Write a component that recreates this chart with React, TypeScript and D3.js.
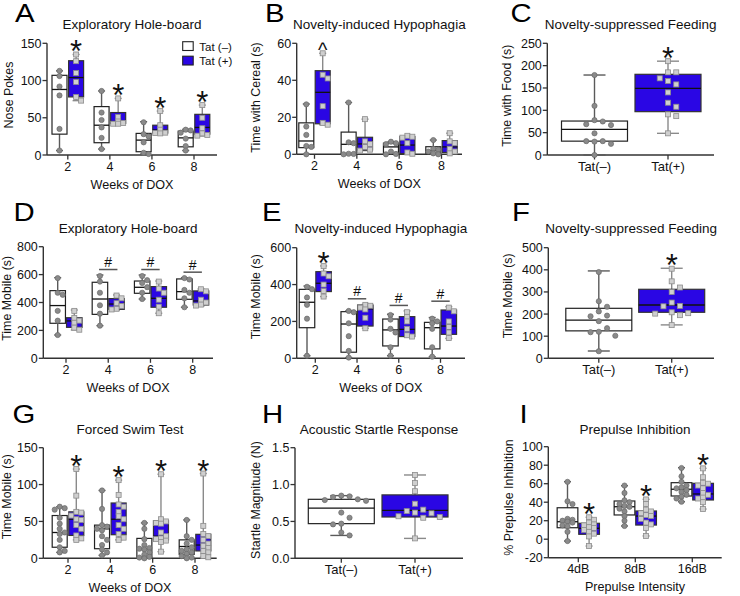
import React from 'react';
import * as d3 from 'd3';

type Box = [number, number, number, number, number]; // min, q1, median, q3, max

const FONT = "'Liberation Sans', Arial, Helvetica, sans-serif";
const BLUE = '#2A06E4';

const weeks = ['2', '4', '6', '8'];
const tatGroups = ['Tat(–)', 'Tat(+)'];
const intensities = ['4dB', '8dB', '16dB'];
const legendLabels = ['Tat (–)', 'Tat (+)'];

// ---------- A: Exploratory Hole-board, Nose Pokes ----------
const aTicks = [0, 50, 100, 150];
const aNegBox: Box[] = [[6, 28, 88, 107, 113], [8, 16.5, 40, 65, 86], [1.3, 4.4, 20, 29, 44.7], [6, 11, 23, 32, 34.5]];
const aPosBox: Box[] = [[73, 78, 104, 126.6, 135], [42, 42.5, 45, 57, 76], [29, 29.5, 33.6, 40, 59], [25.5, 28, 37, 54.6, 67]];
const aNegPts = [[113, 106, 92, 80, 35, 6], [86, 57, 47, 37, 23, 8], [44, 28, 25, 17, 3, 1.3], [34, 33, 30, 22, 12, 6]];
const aPosPts = [[135, 126, 110, 98, 78, 73], [76, 51, 45, 43, 42, 42], [59, 40, 34, 30, 29.5, 29], [67, 50, 36, 29, 27, 26]];
const aMarks = ['*', '*', '*', '*'];

// ---------- B: Novelty-induced Hypophagia, Time with Cereal ----------
const bTicks = [0, 20, 40, 60];
const bNegBox: Box[] = [[0, 3.6, 7.2, 17, 27.2], [0, 0, 5.4, 12, 28], [0, 0, 4, 6, 6.8], [0, 0.6, 2, 4.1, 7.7]];
const bPosBox: Box[] = [[16, 16.5, 33.5, 45.2, 54.6], [2, 2.3, 5.6, 9.2, 19], [0.3, 0.4, 5, 9.6, 10], [0.5, 1, 4, 7.4, 11.4]];
const bNegPts = [[27, 15, 10.5, 4.5, 4, 0], [28, 6.5, 6, 0.3, 0.2, 0], [6.8, 6, 5.5, 1.5, 0.2, 0], [7.7, 3, 2.5, 1.5, 0.5, 0]];
const bPosPts = [[54.6, 43, 41, 26, 17, 16], [19, 7, 5.5, 4, 2.5, 2], [10, 9.5, 9, 6, 1, 0.3], [11.4, 7, 6, 3, 1.5, 0.5]];
const bMarks = ['^', '', '', ''];

// ---------- C: Novelty-suppressed Feeding, Time with Food ----------
const cTicks = [0, 50, 100, 150, 200, 250];
const cNegBox: Box[] = [[0, 31, 57.5, 76, 179]];
const cPosBox: Box[] = [[48.5, 97, 149, 180.6, 210]];
const cNegPts = [[179, 110, 78, 75, 69, 67, 48.5, 31, 31, 30, 25, 0]];
const cPosPts = [[210, 185, 185, 171.6, 165.7, 158, 140, 117, 108, 91, 87, 48.5]];
const cMarks = ['', '*'];

// ---------- D: Exploratory Hole-board, Time Mobile ----------
const dTicks = [0, 200, 400, 600, 800];
const dNegBox: Box[] = [[167, 251, 378, 485, 578], [234, 315, 425, 545, 597], [425, 466, 509, 554, 597], [366, 423, 478, 569, 578]];
const dPosBox: Box[] = [[203, 222, 268, 291, 346], [346, 351, 389, 428, 454], [323, 366, 430, 514, 554], [375, 382, 411, 483, 497]];
const dNegPts = [[575, 470, 455, 340, 270, 167], [590, 550, 470, 380, 320, 234], [590, 560, 540, 510, 470, 425], [575, 565, 490, 470, 430, 366]];
const dPosPts = [[340, 290, 270, 255, 220, 205], [450, 430, 395, 375, 355, 350], [550, 500, 470, 420, 370, 323], [495, 480, 420, 400, 385, 378]];
const dMarks = ['', '#', '#', '#'];

// ---------- E: Novelty-induced Hypophagia, Time Mobile ----------
const eTicks = [0, 200, 400, 600];
const eNegBox: Box[] = [[14, 166, 304, 374, 392], [4, 33, 186, 253, 257], [14, 67, 154, 213, 239], [9, 51, 166, 195, 221]];
const ePosBox: Box[] = [[335, 362, 407, 470, 501], [163, 175, 268, 289, 293], [118, 118, 157, 226, 257], [108, 130, 175, 262, 280]];
const eNegPts = [[388, 375, 330, 290, 215, 14], [257, 250, 190, 120, 40, 4], [235, 210, 160, 140, 60, 14], [215, 200, 190, 160, 60, 9]];
const ePosPts = [[500, 460, 445, 400, 365, 335], [290, 285, 275, 265, 220, 163], [250, 225, 200, 160, 125, 118], [275, 255, 200, 170, 140, 110]];
const eMarks = ['*', '#', '#', '#'];

// ---------- F: Novelty-suppressed Feeding, Time Mobile ----------
const fTicks = [0, 100, 200, 300, 400, 500];
const fNegBox: Box[] = [[33, 124, 173, 226, 395]];
const fPosBox: Box[] = [[151, 208, 241, 312, 407]];
const fNegPts = [[390, 258, 233, 212, 193, 190, 168, 136, 120, 118, 102, 32]];
const fPosPts = [[405, 348, 320, 300, 252, 237, 235, 208, 204, 202, 195, 150]];
const fMarks = ['', '*'];

// ---------- G: Forced Swim Test, Time Mobile ----------
const gTicks = [0, 50, 100, 150];
const gNegBox: Box[] = [[8, 15, 35, 58, 70], [4, 13, 40, 45, 92], [0, 1.4, 13, 27, 48], [0, 5.4, 16, 25, 52]];
const gPosBox: Box[] = [[25, 31, 53, 63, 121], [25, 32, 53, 75, 106], [9, 25, 30, 51, 114], [1.4, 10, 18, 32.5, 115]];
const gNegPts = [
  [70, 68, 66, 55, 47, 40, 35, 33, 25, 15, 10, 8],
  [92, 67, 45, 43, 40, 38, 30, 25, 18, 12, 8, 4],
  [48, 40, 26, 18, 14, 13, 12, 8, 5, 2, 1, 0],
  [52, 30, 25, 20, 15, 12, 10, 8, 6, 3, 1, 0],
];
const gPosPts = [
  [121, 85, 63, 62, 58, 53, 52, 45, 40, 31, 27, 25],
  [106, 86, 73, 70, 63, 57, 53, 45, 40, 33, 28, 25],
  [114, 53, 50, 48, 47, 35, 30, 27, 26, 24, 22, 9],
  [115, 44, 33, 30, 25, 20, 17, 14, 10, 8, 3, 1.4],
];
const gMarks = ['*', '*', '*', '*'];

// ---------- H: Acoustic Startle Response ----------
const hTicks = [0, 0.5, 1.0, 1.5];
const hNegBox: Box[] = [[0.31, 0.47, 0.68, 0.8, 0.85]];
const hPosBox: Box[] = [[0.27, 0.56, 0.65, 0.86, 1.13]];
const hNegPts = [[0.85, 0.84, 0.83, 0.8, 0.79, 0.78, 0.62, 0.55, 0.47, 0.46, 0.35, 0.31]];
const hPosPts = [[1.13, 1.02, 0.91, 0.74, 0.66, 0.64, 0.62, 0.61, 0.57, 0.56, 0.55, 0.27]];
const hMarks = ['', ''];

// ---------- I: Prepulse Inhibition ----------
const iTicks = [-20, 0, 20, 40, 60, 80, 100];
const iNegBox: Box[] = [[-2, 12.4, 18.9, 34, 62.2], [14.3, 26.2, 35.1, 41.3, 57.8], [40.5, 46.7, 54, 61.1, 77.3]];
const iPosBox: Box[] = [[-7.4, 5.3, 11.8, 17.2, 23.7], [3.5, 15.3, 25, 30.5, 43.1], [32.6, 42.4, 48.9, 60.4, 76.6]];
const iNegPts = [
  [62, 41, 38, 22, 21, 20, 19, 18, 15, 14, 8, -2],
  [58, 50, 42, 40, 38, 36, 35, 33, 30, 25, 20, 14.3],
  [77, 68, 62, 58, 56, 55, 53, 51, 48, 46, 44, 40.5],
];
const iPosPts = [
  [23.7, 21, 18, 16, 15, 13, 12, 10, 8, 6, 3, -7.4],
  [43, 38, 32, 30, 28, 26, 25, 22, 18, 16, 12, 3.5],
  [76.6, 67, 61, 60, 58, 55, 50, 48, 45, 44, 40, 32.6],
];
const iMarks = ['*', '*', '*'];

interface Spec {
  letter: string; title: string; yLabel: string; xLabel: string;
  cats: string[]; paired: boolean; yTicks: number[]; yFmt: (v: number) => string;
  negBox: Box[]; posBox: Box[]; negPts: number[][]; posPts: number[][]; marks: string[];
  axX: number; axEnd: number; yTop: number; yBot: number; c0: number; c1: number; boxW: number; off: number;
  letterX: number; letterY: number; titleY: number; yLabX: number; yLabY: number; catSize: number;
  legend?: boolean;
}

const intFmt = (v: number) => String(v);
const dec1 = d3.format('.1f');

const specs: Spec[] = [
  { letter: 'A', title: 'Exploratory Hole-board', yLabel: 'Nose Pokes', xLabel: 'Weeks of DOX', cats: weeks, paired: true,
    yTicks: aTicks, yFmt: intFmt, negBox: aNegBox, posBox: aPosBox, negPts: aNegPts, posPts: aPosPts, marks: aMarks,
    axX: 47, axEnd: 217, yTop: 43.3, yBot: 155, c0: 67.8, c1: 194, boxW: 15, off: 8.3,
    letterX: 15, letterY: 22.3, titleY: 29, yLabX: 13.3, yLabY: 95, catSize: 12.5, legend: true },
  { letter: 'B', title: 'Novelty-induced Hypophagia', yLabel: 'Time with Cereal (s)', xLabel: 'Weeks of DOX', cats: weeks, paired: true,
    yTicks: bTicks, yFmt: intFmt, negBox: bNegBox, posBox: bPosBox, negPts: bNegPts, posPts: bPosPts, marks: bMarks,
    axX: 296.7, axEnd: 462, yTop: 43.3, yBot: 154.3, c0: 314.5, c1: 441.5, boxW: 15, off: 8.2,
    letterX: 265, letterY: 22.3, titleY: 29, yLabX: 260, yLabY: 97.5, catSize: 12.5 },
  { letter: 'C', title: 'Novelty-suppressed Feeding', yLabel: 'Time with Food (s)', xLabel: '', cats: tatGroups, paired: false,
    yTicks: cTicks, yFmt: intFmt, negBox: cNegBox, posBox: cPosBox, negPts: cNegPts, posPts: cPosPts, marks: cMarks,
    axX: 547.3, axEnd: 714, yTop: 43.3, yBot: 155, c0: 594.5, c1: 668, boxW: 66, off: 0,
    letterX: 510.5, letterY: 22.3, titleY: 29, yLabX: 511, yLabY: 95.8, catSize: 13 },
  { letter: 'D', title: 'Exploratory Hole-board', yLabel: 'Time Mobile (s)', xLabel: 'Weeks of DOX', cats: weeks, paired: true,
    yTicks: dTicks, yFmt: intFmt, negBox: dNegBox, posBox: dPosBox, negPts: dNegPts, posPts: dPosPts, marks: dMarks,
    axX: 43.3, axEnd: 213, yTop: 246.7, yBot: 358.3, c0: 66, c1: 192.7, boxW: 15.5, off: 8.3,
    letterX: 13.5, letterY: 221, titleY: 233, yLabX: 11, yLabY: 298.3, catSize: 12.5 },
  { letter: 'E', title: 'Novelty-induced Hypophagia', yLabel: 'Time Mobile (s)', xLabel: 'Weeks of DOX', cats: weeks, paired: true,
    yTicks: eTicks, yFmt: intFmt, negBox: eNegBox, posBox: ePosBox, negPts: eNegPts, posPts: ePosPts, marks: eMarks,
    axX: 296.7, axEnd: 465, yTop: 247.7, yBot: 358.3, c0: 315.3, c1: 440.5, boxW: 15.5, off: 8.3,
    letterX: 262, letterY: 221, titleY: 233, yLabX: 259.5, yLabY: 296.7, catSize: 12.5 },
  { letter: 'F', title: 'Novelty-suppressed Feeding', yLabel: 'Time Mobile (s)', xLabel: '', cats: tatGroups, paired: false,
    yTicks: fTicks, yFmt: intFmt, negBox: fNegBox, posBox: fPosBox, negPts: fNegPts, posPts: fPosPts, marks: fMarks,
    axX: 548.3, axEnd: 714, yTop: 247.7, yBot: 358.3, c0: 598.8, c1: 671.7, boxW: 66, off: 0,
    letterX: 512, letterY: 221, titleY: 233, yLabX: 511.5, yLabY: 295.8, catSize: 13 },
  { letter: 'G', title: 'Forced Swim Test', yLabel: 'Time Mobile (s)', xLabel: 'Weeks of DOX', cats: weeks, paired: true,
    yTicks: gTicks, yFmt: intFmt, negBox: gNegBox, posBox: gPosBox, negPts: gNegPts, posPts: gPosPts, marks: gMarks,
    axX: 43.3, axEnd: 216.7, yTop: 447.7, yBot: 558.3, c0: 68, c1: 195, boxW: 15, off: 8.3,
    letterX: 12.5, letterY: 423.3, titleY: 434, yLabX: 11, yLabY: 496.7, catSize: 12.5 },
  { letter: 'H', title: 'Acoustic Startle Response', yLabel: 'Startle Magnitude (N)', xLabel: '', cats: tatGroups, paired: false,
    yTicks: hTicks, yFmt: dec1, negBox: hNegBox, posBox: hPosBox, negPts: hNegPts, posPts: hPosPts, marks: hMarks,
    axX: 295, axEnd: 463, yTop: 447.7, yBot: 558.3, c0: 341.3, c1: 415, boxW: 66, off: 0,
    letterX: 262, letterY: 423.3, titleY: 434, yLabX: 259.5, yLabY: 500, catSize: 13 },
  { letter: 'I', title: 'Prepulse Inhibition', yLabel: '% Prepulse Inhibition', xLabel: 'Prepulse Intensity', cats: intensities, paired: true,
    yTicks: iTicks, yFmt: intFmt, negBox: iNegBox, posBox: iPosBox, negPts: iNegPts, posPts: iPosPts, marks: iMarks,
    axX: 548.3, axEnd: 721.7, yTop: 446.7, yBot: 557.7, c0: 578.3, c1: 692.3, boxW: 20.7, off: 10.8,
    letterX: 519.5, letterY: 423.3, titleY: 434, yLabX: 512.5, yLabY: 497.5, catSize: 12.5 },
];

function swarm(vals: number[], y: (v: number) => number, cx: number, half: number, d: number, minGap: number) {
  const placed: { x: number; y: number }[] = [];
  const sorted = [...vals].sort((a, b) => b - a);
  for (const v of sorted) {
    const py = y(v);
    const cands: number[] = [0];
    for (let k = 1; k * d <= half + 0.01; k++) cands.push(k * d, -k * d);
    let bestX = cx;
    let bestScore = -Infinity;
    for (const o of cands) {
      const px = cx + o;
      let minD = Infinity;
      for (const q of placed) minD = Math.min(minD, Math.hypot(q.x - px, q.y - py));
      if (minD >= minGap) { bestX = px; break; }
      if (minD > bestScore) { bestScore = minD; bestX = px; }
    }
    placed.push({ x: bestX, y: py });
  }
  return placed;
}

interface Col { cx: number; box: Box; pts: number[]; pos: boolean; gi: number }

function Panel({ s }: { s: Spec }) {
  const y = d3.scaleLinear().domain([s.yTicks[0], s.yTicks[s.yTicks.length - 1]]).range([s.yBot, s.yTop]);
  const x = d3.scalePoint<string>().domain(s.cats).range([s.c0, s.c1]);
  const cols: Col[] = [];
  s.cats.forEach((c, i) => {
    const cx = x(c) as number;
    if (s.paired) {
      cols.push({ cx: cx - s.off, box: s.negBox[i], pts: s.negPts[i], pos: false, gi: i });
      cols.push({ cx: cx + s.off, box: s.posBox[i], pts: s.posPts[i], pos: true, gi: i });
    } else {
      const pos = i === 1;
      cols.push({ cx, box: pos ? s.posBox[0] : s.negBox[0], pts: pos ? s.posPts[0] : s.negPts[0], pos, gi: i });
    }
  });
  const midX = (s.axX + s.axEnd) / 2;
  const capW = Math.max(7, s.boxW / 3);
  const wide = s.boxW > 30;
  const d = wide ? s.boxW / 8 : 5;
  const minGap = wide ? d * 0.95 : 4.2;
  const ptHalf = s.boxW / 2 - 1.5;

  const marks: React.ReactNode[] = [];
  s.marks.forEach((m, i) => {
    if (!m) return;
    if (m === '#') {
      const g = cols.filter((c) => c.gi === i);
      const top = Math.min(...g.map((c) => y(c.box[4])));
      const cx = x(s.cats[i]) as number;
      const ly = top - 5.5;
      marks.push(
        <g key={'h' + i}>
          <line x1={cx - 9.2} x2={cx + 9.2} y1={ly} y2={ly} stroke="#555" strokeWidth={1.5} />
          <text x={cx} y={ly - 2.5} fontSize={14} textAnchor="middle" fill="#111">#</text>
        </g>
      );
    } else {
      const col = s.paired ? cols.find((c) => c.gi === i && c.pos)! : cols[i];
      const top = y(col.box[4]);
      if (m === '*') {
        marks.push(<text key={'s' + i} x={col.cx} y={top - 10 + 18} fontSize={31} textAnchor="middle" fill="#111">*</text>);
      } else {
        marks.push(<text key={'c' + i} x={col.cx} y={top + 3.5} fontSize={20} textAnchor="middle" fill="#111">^</text>);
      }
    }
  });

  return (
    <g fontFamily={FONT}>
      <text transform={`translate(${s.letterX},${s.letterY}) scale(1.15,1)`} fontSize={25.5} fill="#000">{s.letter}</text>
      <text x={midX} y={s.titleY} fontSize={13.5} textAnchor="middle" fill="#111">{s.title}</text>
      <text transform={`translate(${s.yLabX},${s.yLabY}) rotate(-90)`} fontSize={12.4} textAnchor="middle" fill="#111">{s.yLabel}</text>
      {s.xLabel && <text x={midX} y={s.yBot + 33.5} fontSize={12.6} textAnchor="middle" fill="#111">{s.xLabel}</text>}
      {/* y axis */}
      <line x1={s.axX} x2={s.axX} y1={s.yTop} y2={s.yBot} stroke="#333" strokeWidth={1.4} />
      {s.yTicks.map((t) => (
        <g key={'yt' + t}>
          <line x1={s.axX - 4.5} x2={s.axX} y1={y(t)} y2={y(t)} stroke="#333" strokeWidth={1.3} />
          <text x={s.axX - 5.5} y={y(t)} dy="0.36em" fontSize={12.5} textAnchor="end" fill="#111">{s.yFmt(t)}</text>
        </g>
      ))}
      {/* x axis */}
      <line x1={s.axX} x2={s.axEnd} y1={s.yBot} y2={s.yBot} stroke="#333" strokeWidth={1.4} />
      {s.cats.map((c) => (
        <g key={'xt' + c}>
          <line x1={x(c) as number} x2={x(c) as number} y1={s.yBot} y2={s.yBot + 4.5} stroke="#333" strokeWidth={1.3} />
          <text x={x(c) as number} y={s.yBot + 15.5} fontSize={s.catSize} textAnchor="middle" fill="#111">{c}</text>
        </g>
      ))}
      {/* boxes */}
      {cols.map((c, k) => {
        const [mn, q1, md, q3, mx] = c.box;
        const wc = c.pos ? '#8a8a8a' : '#5a5a5a';
        const pts = swarm(c.pts, y, c.cx, ptHalf, d, minGap);
        return (
          <g key={'c' + k}>
            <line x1={c.cx} x2={c.cx} y1={y(mx)} y2={y(mn)} stroke={wc} strokeWidth={1.4} />
            <line x1={c.cx - capW / 2} x2={c.cx + capW / 2} y1={y(mx)} y2={y(mx)} stroke={wc} strokeWidth={1.4} />
            <line x1={c.cx - capW / 2} x2={c.cx + capW / 2} y1={y(mn)} y2={y(mn)} stroke={wc} strokeWidth={1.4} />
            <rect x={c.cx - s.boxW / 2} y={y(q3)} width={s.boxW} height={Math.max(0.5, y(q1) - y(q3))}
              fill={c.pos ? BLUE : '#fff'} stroke={c.pos ? '#333' : '#222'} strokeWidth={1.2} />
            <line x1={c.cx - s.boxW / 2} x2={c.cx + s.boxW / 2} y1={y(md)} y2={y(md)} stroke="#111" strokeWidth={1.3} />
            {pts.map((p, j) =>
              c.pos ? (
                <rect key={j} x={p.x - 2.5} y={p.y - 2.5} width={5} height={5} fill="#cfcfcf" stroke="#8c8c8c" strokeWidth={0.8} />
              ) : (
                <circle key={j} cx={p.x} cy={p.y} r={2.6} fill="#8a8a8a" stroke="#6a6a6a" strokeWidth={0.7} />
              )
            )}
          </g>
        );
      })}
      {marks}
      {s.legend && (
        <g>
          <rect x={182.7} y={41.7} width={10.5} height={8.8} fill="#fff" stroke="#222" strokeWidth={1.1} />
          <rect x={182.7} y={56.2} width={10.5} height={8.8} fill={BLUE} stroke="#222" strokeWidth={1.1} />
          <text x={199.3} y={50.5} fontSize={11.5} fill="#111">{legendLabels[0]}</text>
          <text x={199.3} y={65} fontSize={11.5} fill="#111">{legendLabels[1]}</text>
        </g>
      )}
    </g>
  );
}

export default function App() {
  return (
    <svg width={740} height={596} viewBox="0 0 740 596"
      style={{ position: 'absolute', left: 0, top: 0, background: '#fff' }}>
      <rect width={740} height={596} fill="#fff" />
      {specs.map((s) => <Panel key={s.letter} s={s} />)}
    </svg>
  );
}
